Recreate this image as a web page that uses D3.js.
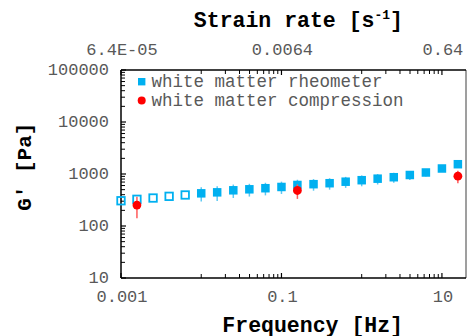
<!DOCTYPE html>
<html><head><meta charset="utf-8">
<script src="https://cdn.jsdelivr.net/npm/d3@7"></script>
<style>html,body{margin:0;padding:0;background:#fff;}svg{display:block;}</style>
</head><body>
<svg id="c" width="468" height="336"></svg>
<script>
const rheoFreq = [0.001,0.00158,0.00251,0.00398,0.00631,0.01,0.0158,0.0251,0.0398,0.0631,0.1,0.158,0.251,0.398,0.631,1,1.58,2.51,3.98,6.31,10,15.8];
const rheoG    = [306,326,345,372,395,425,444,486,508,533,563,615,637,665,711,760,813,867,957,1069,1276,1542];
const rheoErr  = [0,0,0,0,0,130,140,140,140,145,150,160,160,165,170,180,185,190,190,170,150,150];
const rheoOpen = [true,true,true,true,true,false,false,false,false,false,false,false,false,false,false,false,false,false,false,false,false,false];
const compFreq = [0.00158,0.158,15.8];
const compG    = [253,482,908];
const compErr  = [112,150,245];
const xTickVals = [0.001,0.1,10];
const xTickLabels = ["0.001","0.1","10"];
const xMinor = [0.01,0.02,0.03,0.04,0.05,0.06,0.07,0.08,0.09,1,2,3,4,5,6,7,8,9];
const topTickVals = [6.4e-5,0.0064,0.64];
const topTickLabels = ["6.4E-05","0.0064","0.64"];
const yTickVals = [10,100,1000,10000,100000];
const yTickLabels = ["10","100","1000","10000","100000"];
const legendLabels = ["white matter rheometer","white matter compression"];

const svg = d3.select("#c");
const FONT = "'Liberation Mono','Courier New',monospace";
const BLUE = "#00B0F0", RED = "#FF0000", GREY = "#595959";
const L = 121, R = 466, T = 70, B = 278;
const x = d3.scaleLog().domain([0.001, 19.95]).range([L, R]);
const xTop = d3.scaleLog().domain([6.4e-5, 6.4e-5*19950]).range([L, R]);
const y = d3.scaleLog().domain([10, 100000]).range([B, T]);

// y minor ticks
const yMinor = [];
for (let e = 1; e < 5; e++) for (let k = 2; k <= 9; k++) yMinor.push(k * Math.pow(10, e));

const g = svg.append("g");
// frame
g.append("line").attr("x1",R).attr("x2",R).attr("y1",T).attr("y2",B).attr("stroke","#7f7f7f").attr("stroke-width",1.5);

// left axis ticks
g.selectAll(".ymaj").data(yTickVals).join("line")
  .attr("x1",L).attr("x2",L+5).attr("y1",d=>y(d)).attr("y2",d=>y(d)).attr("stroke","#000").attr("stroke-width",1.2);
g.selectAll(".ymin").data(yMinor).join("line")
  .attr("x1",L).attr("x2",L+4).attr("y1",d=>y(d)).attr("y2",d=>y(d)).attr("stroke","#000").attr("stroke-width",1);
// bottom ticks
g.selectAll(".xmaj").data(xTickVals).join("line")
  .attr("x1",d=>x(d)).attr("x2",d=>x(d)).attr("y1",B).attr("y2",B-5).attr("stroke","#000").attr("stroke-width",1.2);
g.selectAll(".xmin").data(xMinor).join("line")
  .attr("x1",d=>x(d)).attr("x2",d=>x(d)).attr("y1",B).attr("y2",B-4).attr("stroke","#000").attr("stroke-width",1);
// top ticks
g.selectAll(".tmaj").data(topTickVals).join("line")
  .attr("x1",d=>xTop(d)).attr("x2",d=>xTop(d)).attr("y1",T).attr("y2",T+5).attr("stroke","#000").attr("stroke-width",1.2);
g.selectAll(".tmin").data(xMinor.map(v=>v*0.064)).join("line")
  .attr("x1",d=>xTop(d)).attr("x2",d=>xTop(d)).attr("y1",T).attr("y2",T+4).attr("stroke","#000").attr("stroke-width",1);

g.append("line").attr("x1",L).attr("x2",L).attr("y1",T).attr("y2",B).attr("stroke","#000").attr("stroke-width",1.5);
g.append("line").attr("x1",L).attr("x2",R).attr("y1",B).attr("y2",B).attr("stroke","#000").attr("stroke-width",1.5);
g.append("line").attr("x1",L).attr("x2",R).attr("y1",T).attr("y2",T).attr("stroke","#000").attr("stroke-width",1.5);

// tick labels
g.selectAll(".ylab").data(yTickVals).join("text")
  .attr("x",109).attr("y",d=>y(d)+4.8).attr("text-anchor","end")
  .attr("font-family",FONT).attr("font-size",17).attr("fill",GREY)
  .text((d,i)=>yTickLabels[i]);
g.selectAll(".xlab").data(xTickVals).join("text")
  .attr("x",d=>x(d)+1).attr("y",302).attr("text-anchor","middle")
  .attr("font-family",FONT).attr("font-size",17).attr("fill",GREY)
  .text((d,i)=>xTickLabels[i]);
g.selectAll(".tlab").data(topTickVals).join("text")
  .attr("x",d=>xTop(d)+1).attr("y",55).attr("text-anchor","middle")
  .attr("font-family",FONT).attr("font-size",17).attr("fill",GREY)
  .text((d,i)=>topTickLabels[i]);

// titles
const tt = g.append("text").attr("x",403).attr("y",27).attr("text-anchor","end")
  .attr("font-family",FONT).attr("font-size",21.5).attr("font-weight","bold").attr("fill","#000");
tt.append("tspan").text("Strain rate [s");
tt.append("tspan").attr("font-size",13).attr("dy",-8).text("-1");
tt.append("tspan").attr("dy",8).text("]");
g.append("text").attr("x",403).attr("y",331.5).attr("text-anchor","end")
  .attr("font-family",FONT).attr("font-size",21.5).attr("font-weight","bold").attr("fill","#000")
  .text("Frequency [Hz]");
g.append("text").attr("transform","translate(31,166.7) rotate(-90)").attr("text-anchor","middle")
  .attr("font-family",FONT).attr("font-size",21).attr("font-weight","bold").attr("fill","#000")
  .text("G' [Pa]");

// rheometer error bars
const rheo = rheoFreq.map((f,i)=>({f, v:rheoG[i], e:rheoErr[i], open:rheoOpen[i]}));
g.selectAll(".rerr").data(rheo.filter(d=>d.e>0)).join("line")
  .attr("x1",d=>x(d.f)).attr("x2",d=>x(d.f)).attr("y1",d=>y(d.v+d.e)).attr("y2",d=>y(d.v-d.e))
  .attr("stroke","#5cc9f3").attr("stroke-width",1.5);
// rheometer markers
const S = 8.5;
g.selectAll(".rfill").data(rheo.filter(d=>!d.open)).join("rect")
  .attr("x",d=>x(d.f)-S/2).attr("y",d=>y(d.v)-S/2).attr("width",S).attr("height",S).attr("fill",BLUE);
const So = 7.5;
g.selectAll(".ropen").data(rheo.filter(d=>d.open)).join("rect")
  .attr("x",d=>x(d.f)-So/2).attr("y",d=>y(d.v)-So/2).attr("width",So).attr("height",So)
  .attr("fill","none").attr("stroke",BLUE).attr("stroke-width",1.8);

// compression
const comp = compFreq.map((f,i)=>({f, v:compG[i], e:compErr[i]}));
g.selectAll(".cerr").data(comp).join("line")
  .attr("x1",d=>x(d.f)).attr("x2",d=>x(d.f)).attr("y1",d=>y(d.v+d.e)).attr("y2",d=>y(d.v-d.e))
  .attr("stroke","#ff5a5a").attr("stroke-width",1.5);
g.selectAll(".cdot").data(comp).join("circle")
  .attr("cx",d=>x(d.f)).attr("cy",d=>y(d.v)).attr("r",4.4).attr("fill",RED);

// legend
g.append("rect").attr("x",141.7-3.7).attr("y",81.7-3.7).attr("width",7.4).attr("height",7.4).attr("fill",BLUE);
g.append("circle").attr("cx",141.7).attr("cy",100.5).attr("r",4).attr("fill",RED);
g.selectAll(".leg").data(legendLabels).join("text")
  .attr("x",151.5).attr("y",(d,i)=>87.3+i*18.7)
  .attr("font-family",FONT).attr("font-size",17.5).attr("fill",GREY).text(d=>d);
</script>
</body></html>
